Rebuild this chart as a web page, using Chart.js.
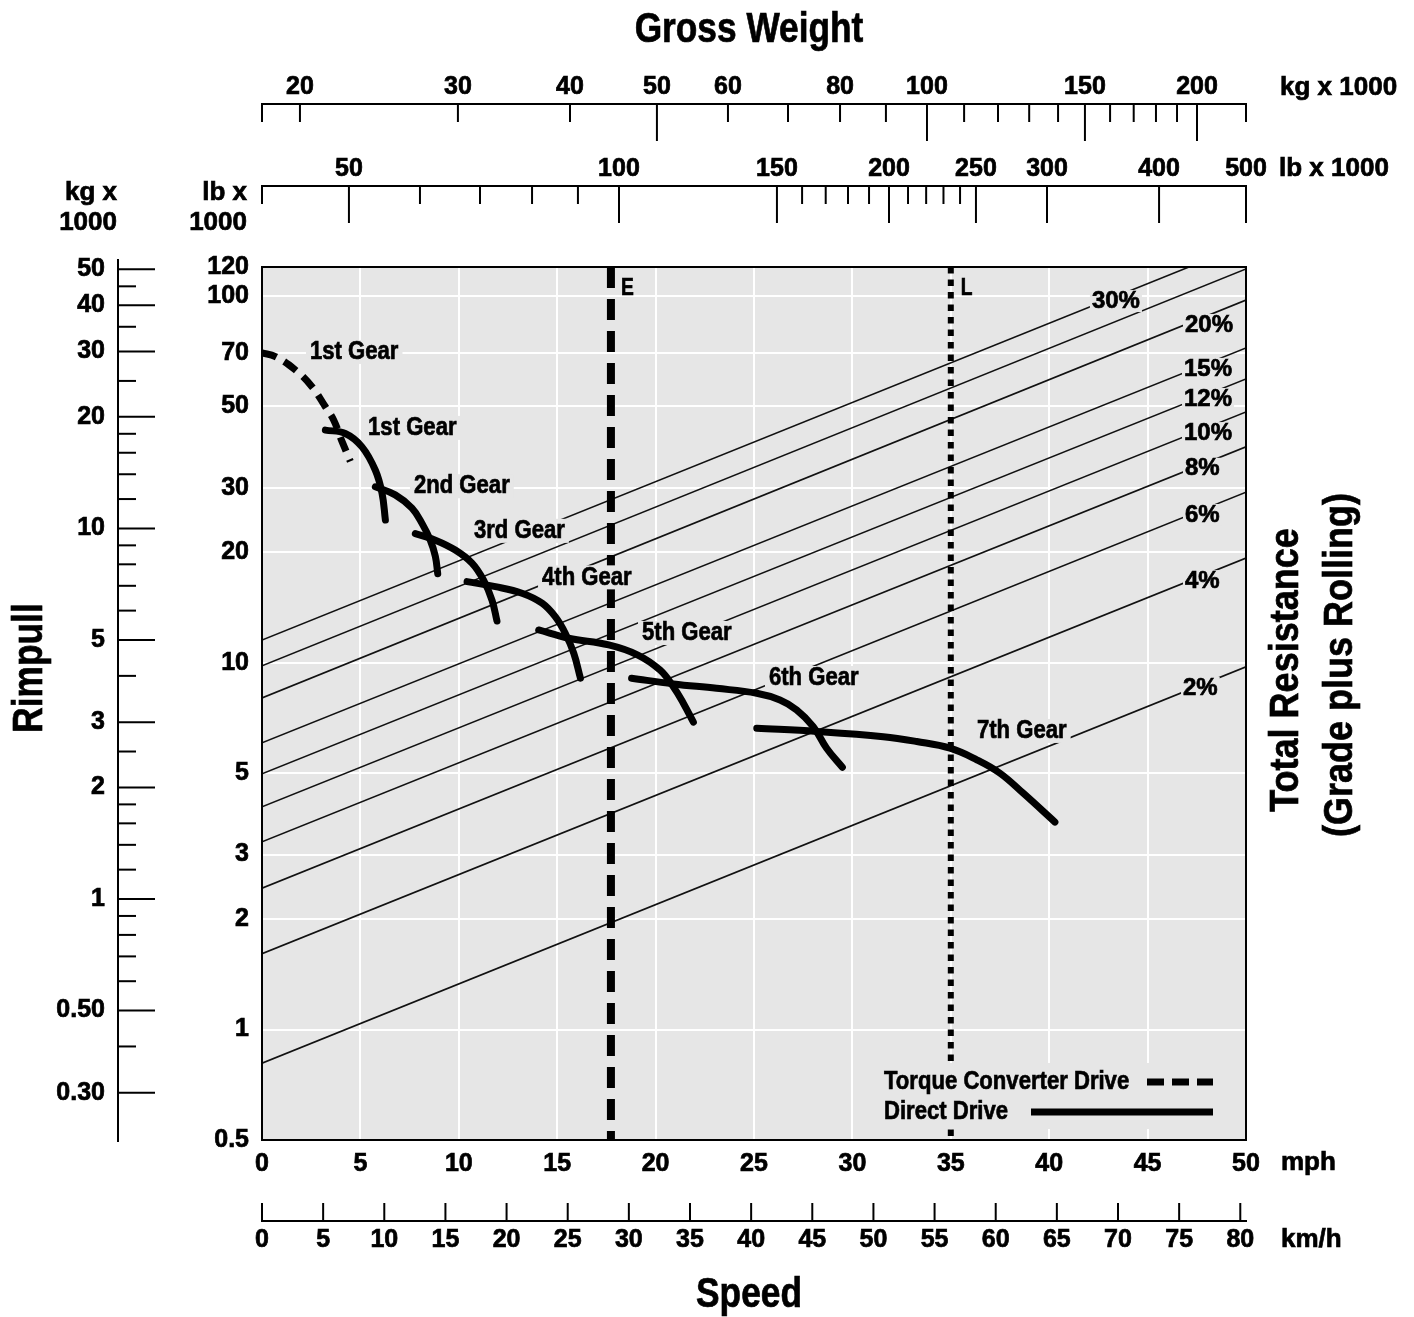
<!DOCTYPE html>
<html>
<head>
<meta charset="utf-8">
<script src="https://cdn.jsdelivr.net/npm/chart.js@4.4.1/dist/chart.umd.min.js"></script>
<style>
  html, body { margin: 0; padding: 0; background: #fff; }
  #wrap { width: 1414px; height: 1317px; position: relative; }
</style>
</head>
<body>
<div id="wrap"><canvas id="rimpull"></canvas></div>
<script>
const FONT = '"Liberation Sans", Arial, Helvetica, sans-serif'
const INK = "#000"
const PLOT_BG = "#e6e6e6"
const STROKE = 0.7

// speed in mph, rimpull in lb x 1000
const tcSpeed = [0, 0.68, 1.69, 2.54, 3.22, 3.64, 4.07, 4.49]
const tcPull = [70, 68.4, 62.9, 56.6, 49.9, 45.9, 40.1, 35.4]

const gear1Speed = [3.22, 4.23, 5.08, 5.76, 6.10, 6.27]
const gear1Pull = [43.1, 42.2, 38.8, 33.5, 29.0, 24.5]
const gear2Speed = [5.76, 6.77, 7.62, 8.13, 8.55, 8.81, 8.93]
const gear2Pull = [30.2, 28.7, 26.4, 24.0, 21.6, 19.5, 17.5]
const gear3Speed = [7.79, 8.81, 9.82, 10.67, 11.26, 11.69, 11.94]
const gear3Pull = [22.5, 21.6, 20.3, 18.7, 16.8, 14.8, 13.0]
const gear4Speed = [10.42, 11.86, 13.21, 14.23, 14.90, 15.41, 15.84, 16.18]
const gear4Pull = [16.65, 16.13, 15.48, 14.54, 13.36, 12.04, 10.62, 9.08]
const gear5Speed = [14.06, 15.58, 17.62, 19.1, 20.22, 20.90, 21.41, 21.92]
const gear5Pull = [12.29, 11.67, 11.19, 10.5, 9.56, 8.61, 7.76, 6.89]
const gear6Speed = [18.78, 20.90, 23.10, 25.14, 26.32, 27.17, 28.01, 28.69, 29.49]
const gear6Pull = [9.08, 8.76, 8.52, 8.26, 7.92, 7.44, 6.70, 5.85, 5.19]
const gear7Speed = [25.14, 28.19, 31.57, 33.27, 34.96, 36.32, 37.50, 38.68, 40.29]
const gear7Pull = [6.63, 6.50, 6.29, 6.10, 5.85, 5.44, 5.00, 4.41, 3.68]

const gearLabels = ["1st Gear", "1st Gear", "2nd Gear", "3rd Gear", "4th Gear", "5th Gear", "6th Gear", "7th Gear"]
const gearLabelSpeed = [2.44, 5.39, 7.72, 10.77, 14.23, 19.31, 25.76, 36.33]
const gearLabelPull = [70.4, 43.7, 30.3, 22.9, 17.1, 12.06, 9.09, 6.52]

// total resistance lines, read at 40 and 500 (lb x 1000) gross weight
const gradeLabels = ["2%", "4%", "6%", "8%", "10%", "12%", "15%", "20%", "", "30%"]
const gradePullAt40 = [0.81, 1.61, 2.43, 3.25, 4.05, 4.98, 6.05, 8.02, 9.81, 11.54]
const gradePullAt500 = [9.75, 19.3, 29.2, 38.8, 48.3, 59.4, 72.2, 97.5, 118.5, 138.6]
const gradeLabelSpeed = [46.80, 46.90, 46.90, 46.90, 46.85, 46.85, 46.85, 46.90, null, 42.17]
const gradeLabelPull = [8.54, 16.7, 25.3, 33.8, 42.3, 52.4, 63.3, 83.4, null, 96.9]

const markerNames = ["E", "L"]
const markerSpeeds = [17.73, 35.0]

const speedTicks = [0, 5, 10, 15, 20, 25, 30, 35, 40, 45, 50]
const kmhTicks = [0, 5, 10, 15, 20, 25, 30, 35, 40, 45, 50, 55, 60, 65, 70, 75, 80]
const rimpullLbTicks = [120, 100, 70, 50, 30, 20, 10, 5, 3, 2, 1, 0.5]
const rimpullKgTicks = [50, 40, 30, 20, 10, 5, 3, 2, 1, 0.5, 0.3]
const rimpullKgText = ["50", "40", "30", "20", "10", "5", "3", "2", "1", "0.50", "0.30"]
const rimpullKgMinor = [45, 35, 25, 18, 16, 14, 12, 9, 8, 7, 6, 4, 2.5, 1.8, 1.6, 1.4, 1.2, 0.9, 0.8, 0.7, 0.6, 0.4]
const weightKgLabels = [20, 30, 40, 50, 60, 80, 100, 150, 200]
const weightKgMajor = [50, 100, 150, 200]
const weightKgMinor = [20, 30, 40, 60, 70, 80, 90, 110, 120, 130, 140, 160, 170, 180, 190]
const weightLbLabels = [50, 100, 150, 200, 250, 300, 400, 500]
const weightLbMinor = [60, 70, 80, 90, 160, 170, 180, 190, 210, 220, 230, 240]

const LB_PER_KG = 2.20462
const KMH_PER_MPH = 1.609344
const WEIGHT_LB_MIN = 40
const WEIGHT_LB_MAX = 500
const RIMPULL_KG_MIN = 0.2237
const RIMPULL_KG_MAX = 50.74

const pts = (xs, ys) => xs.map((x, i) => ({ x: x, y: ys[i] }))

// sx squeezes the text horizontally, the original uses a condensed face
function drawText(ctx, str, x, y, size, align, sx) {
  ctx.save()
  ctx.font = `bold ${size}px ${FONT}`
  ctx.textAlign = align || "left"
  ctx.textBaseline = "middle"
  ctx.fillStyle = INK
  ctx.strokeStyle = INK
  ctx.lineWidth = STROKE
  ctx.translate(x, y)
  ctx.scale(sx || 1, 1)
  ctx.fillText(str, 0, 0)
  ctx.strokeText(str, 0, 0)
  ctx.restore()
}

function boxedText(ctx, str, x, y, size, sx, padX, halfH) {
  ctx.font = `bold ${size}px ${FONT}`
  const w = ctx.measureText(str).width * sx
  ctx.fillStyle = PLOT_BG
  ctx.fillRect(x - padX, y - halfH, w + 2 * padX, 2 * halfH)
  drawText(ctx, str, x, y, size, "left", sx)
}

function rotText(ctx, str, x, y, size, sx) {
  ctx.save()
  ctx.translate(x, y)
  ctx.rotate(-Math.PI / 2)
  drawText(ctx, str, 0, 0, size, "center", sx)
  ctx.restore()
}

function seg(ctx, x1, y1, x2, y2, w, dash) {
  ctx.lineWidth = w
  ctx.strokeStyle = INK
  ctx.setLineDash(dash || [])
  ctx.beginPath()
  ctx.moveTo(x1, y1)
  ctx.lineTo(x2, y2)
  ctx.stroke()
  ctx.setLineDash([])
}

function drawLegend(chart) {
  const { ctx, chartArea: a } = chart
  const tc = chart.data.datasets.find(d => d.label === "Torque Converter Drive")
  const dd = chart.data.datasets.find(d => d.label === "Direct Drive")
  ctx.fillStyle = PLOT_BG
  ctx.fillRect(a.right - 378, a.bottom - 77, 362, 66)
  drawText(ctx, tc.label, a.right - 362, a.bottom - 58, 26, "left", 0.85)
  seg(ctx, a.right - 99, a.bottom - 58, a.right - 33, a.bottom - 58, tc.borderWidth, [17, 8])
  drawText(ctx, dd.label, a.right - 362, a.bottom - 28, 26, "left", 0.85)
  seg(ctx, a.right - 215, a.bottom - 28, a.right - 33, a.bottom - 28, dd.borderWidth)
}

function drawPlotLabels(chart) {
  const { ctx, scales: { x, y } } = chart
  ctx.save()
  gradeLabels.forEach((g, i) => {
    if (!g) return
    boxedText(ctx, g, x.getPixelForValue(gradeLabelSpeed[i]), y.getPixelForValue(gradeLabelPull[i]), 24, 1, 2, 11)
  })
  gearLabels.forEach((g, i) => {
    boxedText(ctx, g, x.getPixelForValue(gearLabelSpeed[i]), y.getPixelForValue(gearLabelPull[i]), 26, 0.85, 4, 12)
  })
  markerNames.forEach((n, i) => {
    drawText(ctx, n, x.getPixelForValue(markerSpeeds[i]) + 10, y.top + 21, 24, "left", 0.8)
  })
  drawLegend(chart)
  ctx.restore()
}

function drawFrame(chart) {
  const { ctx, chartArea: a } = chart
  ctx.save()
  ctx.lineWidth = 2
  ctx.strokeStyle = INK
  ctx.strokeRect(a.left, a.top, a.right - a.left, a.bottom - a.top)
  ctx.restore()
}

function drawOuterAxes(chart) {
  const { ctx, chartArea: a, scales } = chart
  ctx.save()

  // gross weight, kg
  const sk = scales.xKgW
  seg(ctx, a.left - 1, 104, a.right + 1, 104, 2)
  ;[a.left, a.right].forEach(px => seg(ctx, px, 104, px, 122, 2))
  weightKgMinor.forEach(v => { const px = sk.getPixelForValue(v); seg(ctx, px, 104, px, 122, 2) })
  weightKgMajor.forEach(v => { const px = sk.getPixelForValue(v); seg(ctx, px, 104, px, 141, 2) })
  weightKgLabels.forEach(v => drawText(ctx, String(v), sk.getPixelForValue(v), 87, 25, "center"))
  drawText(ctx, "kg x 1000", 1280, 88, 26)

  // gross weight, lb
  const sl = scales.xW
  seg(ctx, a.left - 1, 186, a.right + 1, 186, 2)
  seg(ctx, a.left, 186, a.left, 204, 2)
  weightLbMinor.forEach(v => { const px = sl.getPixelForValue(v); seg(ctx, px, 186, px, 204, 2) })
  weightLbLabels.forEach(v => {
    const px = sl.getPixelForValue(v)
    seg(ctx, px, 186, px, 223, 2)
    drawText(ctx, String(v), px, 169, 25, "center")
  })
  drawText(ctx, "lb x 1000", 1279, 169, 26)

  // rimpull, kg
  const ky = scales.yKg
  seg(ctx, 118, 259, 118, 1142, 2)
  rimpullKgMinor.forEach(v => { const py = ky.getPixelForValue(v); seg(ctx, 117, py, 136, py, 2) })
  rimpullKgTicks.forEach((v, i) => {
    const py = ky.getPixelForValue(v)
    seg(ctx, 117, py, 155, py, 2)
    drawText(ctx, rimpullKgText[i], 105, py, 25, "right")
  })
  drawText(ctx, "kg x", 117, 193, 26, "right")
  drawText(ctx, "1000", 117, 223, 26, "right")
  drawText(ctx, "lb x", 247, 193, 26, "right")
  drawText(ctx, "1000", 247, 223, 26, "right")

  // speed, km/h
  const sh = scales.xKmh
  seg(ctx, a.left - 1, 1221, a.right + 1, 1221, 2)
  kmhTicks.forEach(v => {
    const px = sh.getPixelForValue(v)
    seg(ctx, px, 1203, px, 1221, 2)
    drawText(ctx, String(v), px, 1240, 25, "center")
  })
  drawText(ctx, "km/h", 1281, 1240, 26)
  drawText(ctx, "mph", 1281, 1163, 26)

  // titles
  drawText(ctx, "Gross Weight", 749, 30, 42, "center", 0.84)
  drawText(ctx, "Speed", 749, 1295, 42, "center", 0.84)
  rotText(ctx, "Rimpull", 30, 668, 42, 0.84)
  rotText(ctx, "Total Resistance", 1287, 670, 40, 0.9)
  rotText(ctx, "(Grade plus Rolling)", 1341, 665, 40, 0.9)
  ctx.restore()
}

let labelsDrawn = false
const paperPlugin = {
  id: "paper",
  beforeDraw(chart) {
    const { ctx, chartArea: a } = chart
    ctx.save()
    ctx.fillStyle = "#fff"
    ctx.fillRect(0, 0, chart.width, chart.height)
    ctx.fillStyle = PLOT_BG
    ctx.fillRect(a.left, a.top, a.right - a.left, a.bottom - a.top)
    ctx.restore()
  },
  beforeDatasetsDraw() { labelsDrawn = false },
  beforeDatasetDraw(chart, args) {
    if (!labelsDrawn && chart.data.datasets[args.index].kind === "gear") {
      drawPlotLabels(chart)
      labelsDrawn = true
    }
  },
  afterDatasetsDraw(chart) {
    if (!labelsDrawn) drawPlotLabels(chart)
    drawFrame(chart)
  },
  afterDraw(chart) { drawOuterAxes(chart) }
}

const gradeSets = gradeLabels.map((g, i) => ({
  label: g || "25%",
  kind: "grade",
  xAxisID: "xW",
  data: [{ x: WEIGHT_LB_MIN, y: gradePullAt40[i] }, { x: WEIGHT_LB_MAX, y: gradePullAt500[i] }],
  borderColor: "#111",
  borderWidth: 1.6,
  pointRadius: 0,
  order: 30
}))

const markerSets = [
  {
    label: "E", kind: "marker", data: [{ x: markerSpeeds[0], y: 120 }, { x: markerSpeeds[0], y: 0.5 }],
    borderColor: INK, borderWidth: 8, borderDash: [21, 11], pointRadius: 0, order: 20
  },
  {
    label: "L", kind: "marker", data: [{ x: markerSpeeds[1], y: 120 }, { x: markerSpeeds[1], y: 0.5 }],
    borderColor: INK, borderWidth: 6, borderDash: [6.5, 6], pointRadius: 0, order: 20
  }
]

const gearCurve = (label, xs, ys, dash) => ({
  label: label,
  kind: "gear",
  data: pts(xs, ys),
  borderColor: INK,
  borderWidth: 7,
  borderDash: dash || [],
  borderCapStyle: dash ? "butt" : "round",
  borderJoinStyle: "round",
  tension: 0.4,
  pointRadius: 0,
  order: 10
})

const gearSets = [
  gearCurve("Torque Converter Drive", tcSpeed, tcPull, [15, 9]),
  gearCurve("Direct Drive", gear1Speed, gear1Pull),
  gearCurve("2nd", gear2Speed, gear2Pull),
  gearCurve("3rd", gear3Speed, gear3Pull),
  gearCurve("4th", gear4Speed, gear4Pull),
  gearCurve("5th", gear5Speed, gear5Pull),
  gearCurve("6th", gear6Speed, gear6Pull),
  gearCurve("7th", gear7Speed, gear7Pull)
]

const tickFont = { family: FONT, size: 25, weight: "bold" }
const tickStyle = { color: INK, font: tickFont, textStrokeColor: INK, textStrokeWidth: STROKE, autoSkip: false, callback: v => String(v) }

new Chart(document.getElementById("rimpull"), {
  type: "line",
  data: { datasets: [...gradeSets, ...markerSets, ...gearSets] },
  options: {
    responsive: true,
    maintainAspectRatio: false,
    animation: false,
    events: [],
    layout: { padding: { left: 0, right: 168, top: 267, bottom: 0 } },
    plugins: { legend: { display: false }, tooltip: { enabled: false } },
    scales: {
      x: {
        type: "linear", position: "bottom", min: 0, max: 50,
        afterFit: s => { s.height = 177 },
        afterBuildTicks: s => { s.ticks = speedTicks.map(v => ({ value: v })) },
        grid: { color: "#fff", lineWidth: 2, drawTicks: false },
        border: { display: false },
        ticks: { ...tickStyle, padding: 9, maxRotation: 0 }
      },
      y: {
        type: "logarithmic", position: "left", min: 0.5, max: 120,
        afterFit: s => { s.width = 262 },
        afterBuildTicks: s => { s.ticks = rimpullLbTicks.map(v => ({ value: v })) },
        grid: { color: "#fff", lineWidth: 2, drawTicks: false },
        border: { display: false },
        ticks: { ...tickStyle, padding: 13 }
      },
      xW: { type: "logarithmic", position: "top", display: false, min: WEIGHT_LB_MIN, max: WEIGHT_LB_MAX },
      xKgW: { type: "logarithmic", position: "top", display: false, min: WEIGHT_LB_MIN / LB_PER_KG, max: WEIGHT_LB_MAX / LB_PER_KG },
      xKmh: { type: "linear", position: "bottom", display: false, min: 0, max: 50 * KMH_PER_MPH },
      yKg: { type: "logarithmic", position: "left", display: false, min: RIMPULL_KG_MIN, max: RIMPULL_KG_MAX }
    }
  },
  plugins: [paperPlugin]
})
</script>
</body>
</html>
